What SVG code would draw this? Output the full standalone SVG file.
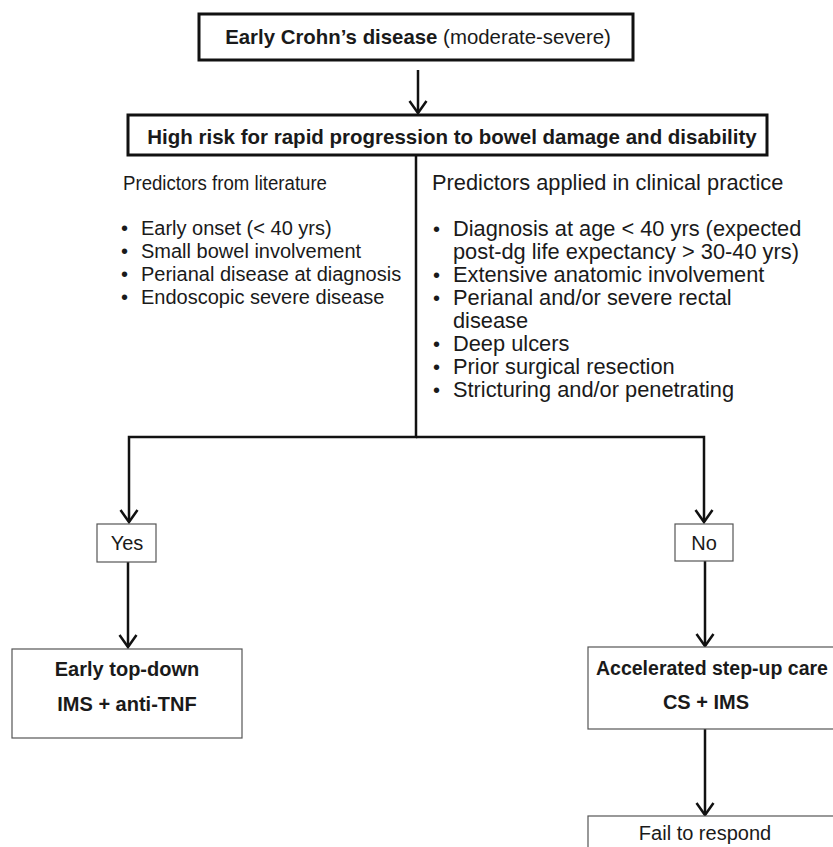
<svg xmlns="http://www.w3.org/2000/svg" width="833" height="847" viewBox="0 0 833 847">
<defs>
<style>
text{font-family:"Liberation Sans",Arial,Helvetica,sans-serif;fill:#1a1a1a}
.t{font-size:20px}
.r{font-size:21.8px}
.b{font-weight:bold}
.thick{fill:#fff;stroke:#111;stroke-width:3}
.thin{fill:#fff;stroke:#555;stroke-width:1.2}
.c{fill:none;stroke:#111;stroke-width:2.5}
</style>
<marker id="ah" markerUnits="userSpaceOnUse" markerWidth="24" markerHeight="24" refX="21" refY="12" orient="auto" viewBox="0 0 24 24">
<path d="M9,3.5 L21,12 L9,20.5" fill="none" stroke="#111" stroke-width="2.5"/>
</marker>
</defs>
<g id="connectors">
<line class="c" x1="418" y1="70" x2="418" y2="113" marker-end="url(#ah)"/>
<polyline class="c" points="416,156 416,437 129,437 129,522" marker-end="url(#ah)"/>
<polyline class="c" points="416,437 704,437 704,522" marker-end="url(#ah)"/>
<line class="c" x1="128" y1="562" x2="128" y2="647" marker-end="url(#ah)"/>
<line class="c" x1="705" y1="561" x2="705" y2="646" marker-end="url(#ah)"/>
<line class="c" x1="705" y1="729" x2="705" y2="815" marker-end="url(#ah)"/>
</g>
<g id="n-early">
<rect class="thick" x="199" y="14" width="434" height="46"/>
<text x="418" y="44" text-anchor="middle" style="font-size:20.4px"><tspan class="b">Early Crohn’s disease</tspan> (moderate-severe)</text>
</g>
<g id="n-highrisk">
<rect class="thick" x="128" y="115" width="639" height="40"/>
<text class="b" x="452" y="144" text-anchor="middle" style="font-size:20.5px">High risk for rapid progression to bowel damage and disability</text>
</g>
<g id="n-lit">
<text class="t" x="123" y="190" textLength="204" lengthAdjust="spacingAndGlyphs">Predictors from literature</text>
<text class="t" x="121" y="235">•</text><text class="t" x="141" y="235">Early onset (&lt; 40 yrs)</text>
<text class="t" x="121" y="258">•</text><text class="t" x="141" y="258">Small bowel involvement</text>
<text class="t" x="121" y="281">•</text><text class="t" x="141" y="281">Perianal disease at diagnosis</text>
<text class="t" x="121" y="304">•</text><text class="t" x="141" y="304">Endoscopic severe disease</text>
</g>
<g id="n-clin">
<text class="r" x="432" y="190">Predictors applied in clinical practice</text>
<text class="t" x="433" y="236">•</text><text class="r" x="453" y="236">Diagnosis at age &lt; 40 yrs (expected</text>
<text class="r" x="453" y="259">post-dg life expectancy &gt; 30-40 yrs)</text>
<text class="t" x="433" y="282">•</text><text class="r" x="453" y="282">Extensive anatomic involvement</text>
<text class="t" x="433" y="305">•</text><text class="r" x="453" y="305">Perianal and/or severe rectal</text>
<text class="r" x="453" y="328">disease</text>
<text class="t" x="433" y="351">•</text><text class="r" x="453" y="351">Deep ulcers</text>
<text class="t" x="433" y="374">•</text><text class="r" x="453" y="374">Prior surgical resection</text>
<text class="t" x="433" y="397">•</text><text class="r" x="453" y="397">Stricturing and/or penetrating</text>
</g>
<g id="n-yes">
<rect class="thin" x="97" y="524" width="59" height="38"/>
<text class="t" x="127" y="550" text-anchor="middle">Yes</text>
</g>
<g id="n-no">
<rect class="thin" x="675" y="524" width="58" height="37"/>
<text class="t" x="704" y="550" text-anchor="middle">No</text>
</g>
<g id="n-topdown">
<rect class="thin" x="12" y="649" width="230" height="89"/>
<text class="t b" x="127" y="676" text-anchor="middle">Early top-down</text>
<text class="t b" x="127" y="711" text-anchor="middle">IMS + anti-TNF</text>
</g>
<g id="n-stepup">
<rect class="thin" x="588" y="647" width="260" height="82"/>
<text class="b" x="596" y="675" style="font-size:19.5px">Accelerated step-up care</text>
<text class="t b" x="706" y="709" text-anchor="middle">CS + IMS</text>
</g>
<g id="n-fail">
<rect class="thin" x="588" y="816" width="260" height="40"/>
<text class="t" x="705" y="840" text-anchor="middle">Fail to respond</text>
</g>
</svg>
